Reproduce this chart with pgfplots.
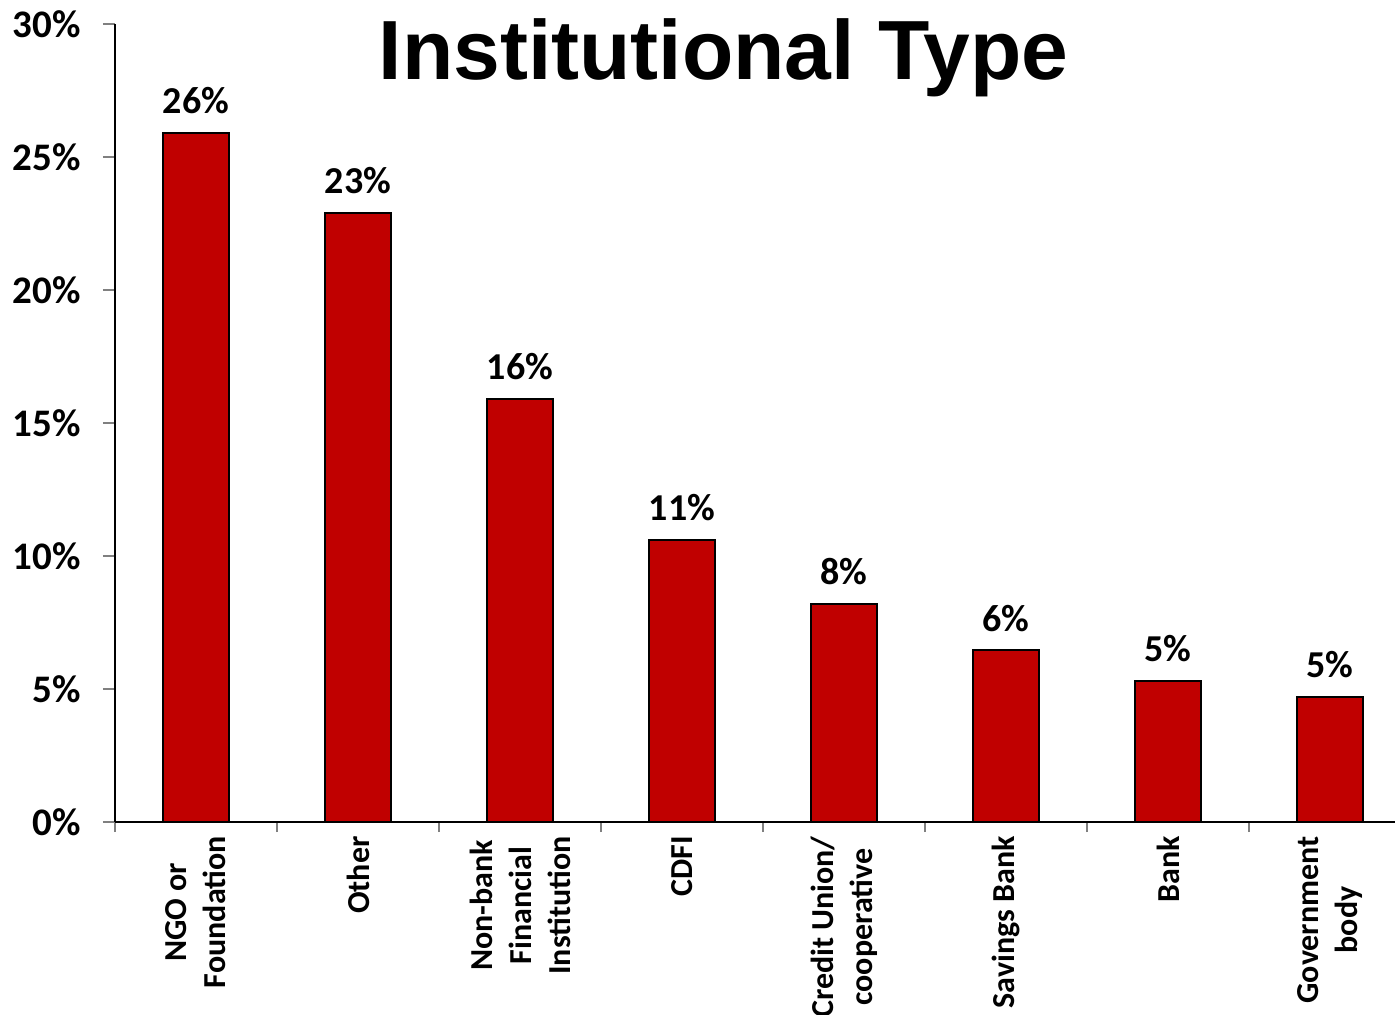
\documentclass[border=0pt]{standalone}
\usepackage{fontspec}
\setmainfont{Carlito}
\newfontfamily\titlefont{Liberation Sans}
\usepackage{pgfplots}
\pgfplotsset{compat=1.18}
\definecolor{barred}{HTML}{C00000}

\begin{document}
\begin{tikzpicture}
\begin{axis}[
    name=main,
    scale only axis,
    width=648pt, height=399pt,
    xmin=-0.5, xmax=7.5,
    ymin=0, ymax=30,
    axis x line*=bottom,
    axis y line*=left,
    axis line style={black, line width=0.75pt},
    /pgf/number format/assume math mode=true,
    tick align=outside,
    major tick length=6pt,
    minor tick length=5pt,
    tick style={gray, line width=0.6pt},
    xtick={0,...,7},
    major x tick style={draw=none},
    minor xtick={-0.5,0.5,...,7.5},
    xticklabels={{NGO or\\Foundation},Other,{Non-bank\\Financial\\Institution},CDFI,{Credit Union/\\cooperative},Savings Bank,Bank,{Government\\body}},
    xticklabel style={rotate=90, anchor=east, align=center, inner sep=1pt,
        font=\fontsize{16}{19.5}\selectfont\bfseries},
    ytick={0,5,...,30},
    yticklabel={\pgfmathprintnumber{\tick}\%},
    yticklabel style={font=\fontsize{19.5}{23}\selectfont\bfseries, xshift=-7.5pt},
    title={Institutional Type},
    title style={at={(rel axis cs:0.4695,0.93)}, anchor=base, yshift=-6pt,
        font={\titlefont\fontsize{42}{48}\selectfont\bfseries}},
    ybar,
    bar width=0.407,
    nodes near coords={\pgfmathprintnumber[fixed,precision=0]{\pgfplotspointmeta}\%},
    nodes near coords style={font=\fontsize{19}{22}\selectfont\bfseries,
        anchor=south, inner sep=0pt, yshift=9pt},
]
\addplot[fill=barred, draw=black, line width=1pt] coordinates {
    (0,25.9) (1,22.9) (2,15.9) (3,10.6)
    (4,8.2) (5,6.45) (6,5.3) (7,4.7)
};
\end{axis}
\pgfresetboundingbox
\path ([shift={(-57.5pt,-96.5pt)}]main.south west) rectangle ([shift={(640pt,411pt)}]main.south west);
\end{tikzpicture}
\end{document}
